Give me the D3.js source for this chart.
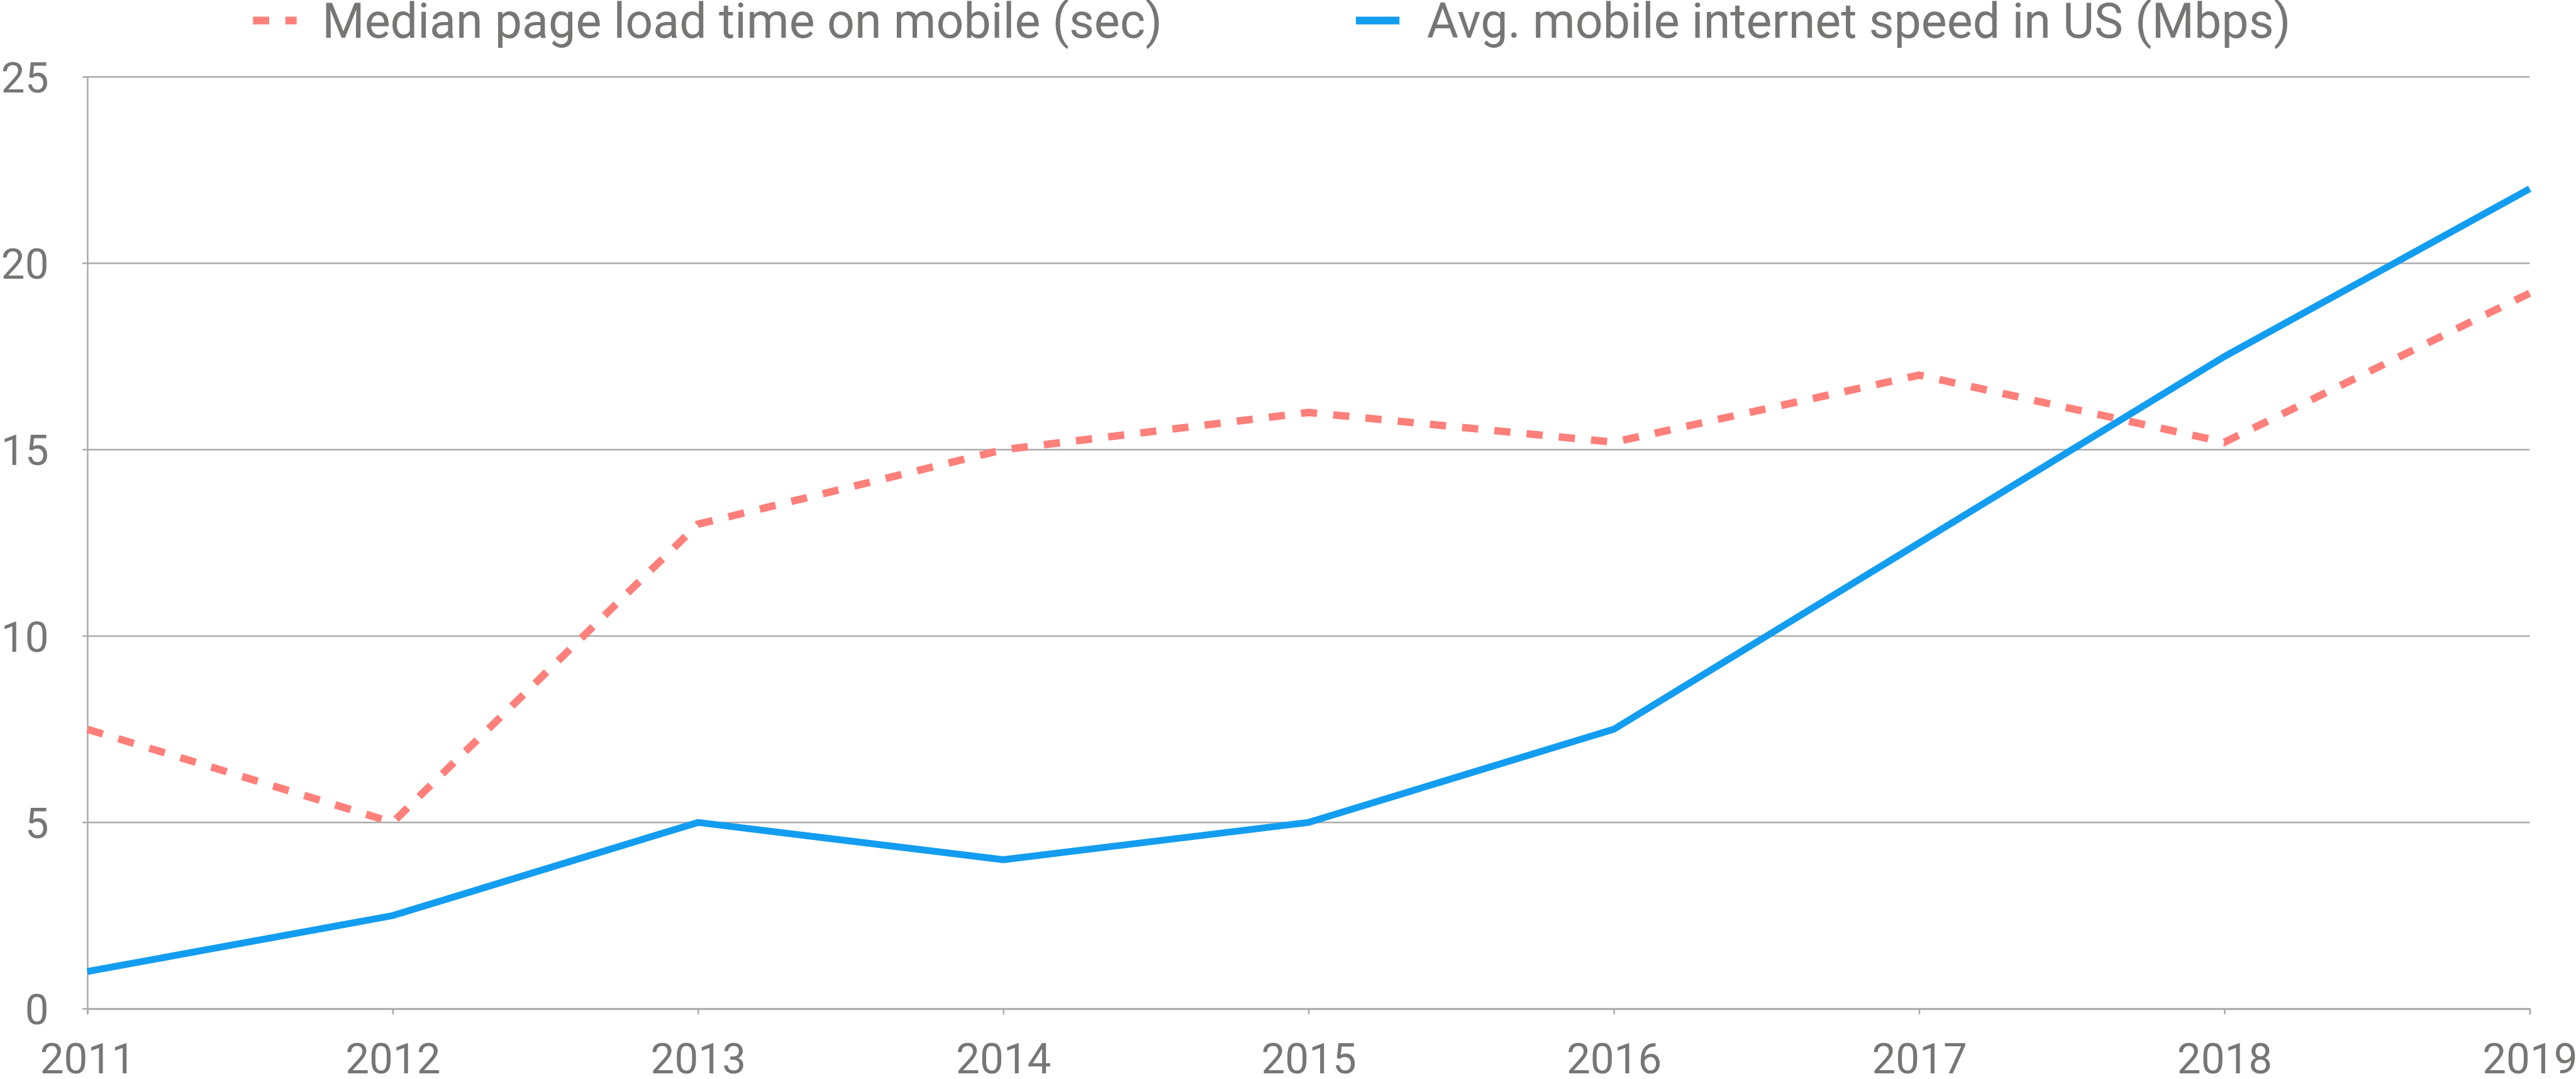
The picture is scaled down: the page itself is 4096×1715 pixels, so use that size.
<!DOCTYPE html>
<meta charset="utf-8">
<head>
  <title>Page load time vs mobile speed</title>
  <script src="https://d3js.org/d3.v7.min.js"></script>
  <style>
    body { margin: 0; background: #fff; }
    text { font-family: Roboto, "Liberation Sans", sans-serif; fill: #767774; }
    .grid line { stroke: #aaaaaa; stroke-width: 2.5px; }
    .axis path, .axis line { stroke: #aaaaaa; stroke-width: 2.5px; }
  </style>
</head>
<body>
  <svg id="chart" width="4096" height="1715" viewBox="0 0 4136 1732"></svg>
  <script>
    // data
    var years = [2011, 2012, 2013, 2014, 2015, 2016, 2017, 2018, 2019];
    var loadTime = [7.5, 5, 13, 15, 16, 15.2, 17, 15.2, 19.2];
    var mobileSpeed = [1, 2.5, 5, 4, 5, 7.5, 12.5, 17.5, 22];
    var yTicks = [0, 5, 10, 15, 20, 25];
    var seriesNames = ["Median page load time on mobile (sec)", "Avg. mobile internet speed in US (Mbps)"];
    var seriesColors = ["#ff7f7a", "#139df0"];

    var svg = d3.select("#chart"),
      plotLeft = 140, plotRight = 4062, plotTop = 123.5, plotBottom = 1619.3;

    var x = d3.scaleLinear().domain([2011, 2019]).range([plotLeft, plotRight]);
    var y = d3.scaleLinear().domain([0, 25]).range([plotBottom, plotTop]);

    // horizontal gridlines (run a little past the y axis like tick marks)
    svg.append("g")
      .attr("class", "grid")
      .selectAll("line")
      .data(yTicks)
      .enter().append("line")
        .attr("x1", plotLeft - 8)
        .attr("x2", plotRight)
        .attr("y1", function(d) { return y(d); })
        .attr("y2", function(d) { return y(d); });

    // y axis line + labels
    var yAxis = svg.append("g")
      .attr("class", "axis")
      .attr("transform", "translate(" + plotLeft + ",0)")
      .call(d3.axisLeft(y).tickValues(yTicks).tickSize(0).tickPadding(62));
    yAxis.selectAll("text")
      .style("font-size", "68px")
      .attr("dy", "0.36em");

    // x axis
    var xAxis = svg.append("g")
      .attr("class", "axis")
      .attr("transform", "translate(0," + plotBottom + ")")
      .call(d3.axisBottom(x).tickValues(years).tickFormat(d3.format("d")).tickSizeOuter(0).tickSize(9).tickPadding(0));
    xAxis.selectAll("text")
      .style("font-size", "68px")
      .attr("dy", null)
      .attr("y", 104);

    var line = d3.line()
      .x(function(d, i) { return x(years[i]); })
      .y(function(d) { return y(d); });

    svg.append("path")
      .datum(loadTime)
      .attr("fill", "none")
      .attr("stroke", seriesColors[0])
      .attr("stroke-width", 12)
      .attr("stroke-dasharray", "26,26")
      .attr("d", line);

    svg.append("path")
      .datum(mobileSpeed)
      .attr("fill", "none")
      .attr("stroke", seriesColors[1])
      .attr("stroke-width", 11)
      .attr("d", line);

    // legend
    var legendX = [406, 2177];
    var legend = svg.append("g").attr("class", "legend")
      .selectAll("g")
      .data(seriesNames)
      .enter().append("g")
        .attr("transform", function(d, i) { return "translate(" + legendX[i] + ",0)"; });

    legend.append("line")
      .attr("x1", 0).attr("x2", 70)
      .attr("y1", 33).attr("y2", 33)
      .attr("stroke", function(d, i) { return seriesColors[i]; })
      .attr("stroke-width", 12.5)
      .attr("stroke-dasharray", function(d, i) { return i == 0 ? "26,26" : null; });

    legend.append("text")
      .attr("x", function(d, i) { return i == 0 ? 111 : 114; })
      .attr("y", 61)
      .style("font-size", "78px")
      .text(function(d) { return d; });
  </script>
</body>
